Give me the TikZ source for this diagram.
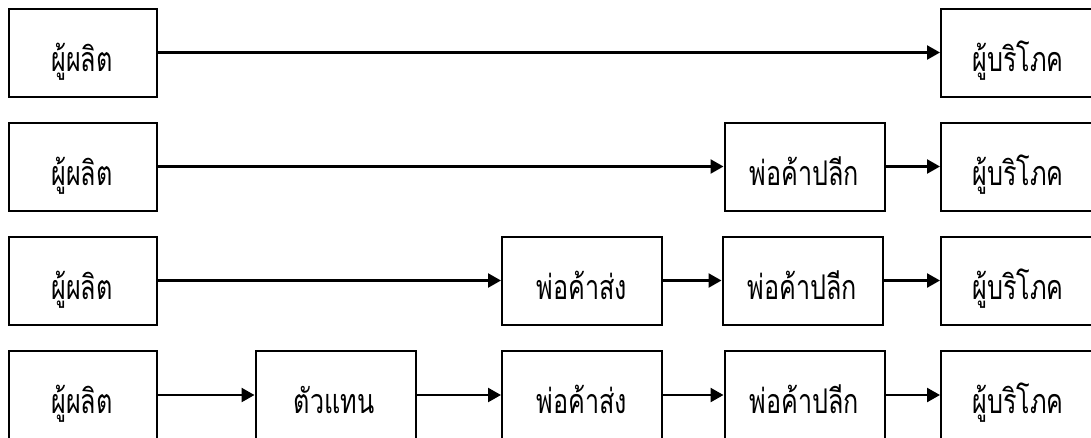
\documentclass[tikz,border=0pt]{standalone}
\usepackage{fontspec}
\newfontfamily\thai[Script=Thai,FakeStretch=0.74]{Loma}
\usetikzlibrary{arrows.meta}
\begin{document}
\begin{tikzpicture}[x=1pt,y=-1pt,
  box/.style={draw, line width=2pt, inner sep=0pt, minimum height=88pt},
  pbox/.style={box, minimum width=148pt},
  wbox/.style={box, minimum width=160pt},
  cbox/.style={box, minimum width=159pt},
  lbl/.style={font=\thai\fontsize{34}{40}\selectfont, anchor=base, inner sep=0pt},
  flow/.style={line width=2.4pt, -{Triangle[length=13pt,width=14pt]}}]
\useasboundingbox (0,0) rectangle (1091,437);
\clip (0,0) rectangle (1091,437);
% row 1
\node[pbox] (p1) at (83.25,52.5) {};
\node[cbox] (c1) at (1020.5,52.5) {};
\node[lbl] (p1t) at (82,71.5) {ผู้ผลิต};
\node[lbl] (c1t) at (1018,71.5) {ผู้บริโภค};
\draw[flow] (p1.east) -- (c1.west);
% row 2
\node[pbox] (p2) at (83.25,166.5) {};
\node[wbox] (r2) at (804.5,166.5) {};
\node[cbox] (c2) at (1020.5,166.5) {};
\node[lbl] (p2t) at (82,185) {ผู้ผลิต};
\node[lbl] (r2t) at (804.5,185) {พ่อค้าปลีก};
\node[lbl] (c2t) at (1018,185) {ผู้บริโภค};
\draw[flow] (p2.east) -- (r2.west);
\draw[flow] (r2.east) -- (c2.west);
% row 3
\node[pbox] (p3) at (83.25,280.5) {};
\node[wbox] (w3) at (582,280.5) {};
\node[wbox] (r3) at (802.5,280.5) {};
\node[cbox] (c3) at (1020.5,280.5) {};
\node[lbl] (p3t) at (82,299) {ผู้ผลิต};
\node[lbl] (w3t) at (582,299) {พ่อค้าส่ง};
\node[lbl] (r3t) at (802.5,299) {พ่อค้าปลีก};
\node[lbl] (c3t) at (1018,299) {ผู้บริโภค};
\draw[flow] (p3.east) -- (w3.west);
\draw[flow] (w3.east) -- (r3.west);
\draw[flow] (r3.east) -- (c3.west);
% row 4
\node[pbox] (p4) at (83.25,395) {};
\node[wbox] (t4) at (335.5,395) {};
\node[wbox] (w4) at (582,395) {};
\node[wbox] (r4) at (804.5,395) {};
\node[cbox] (c4) at (1020.5,395) {};
\node[lbl] (p4t) at (82,413) {ผู้ผลิต};
\node[lbl] (t4t) at (334,413) {ตัวแทน};
\node[lbl] (w4t) at (582,413) {พ่อค้าส่ง};
\node[lbl] (r4t) at (804.5,413) {พ่อค้าปลีก};
\node[lbl] (c4t) at (1018,413) {ผู้บริโภค};
\draw[flow] (p4.east) -- (t4.west);
\draw[flow] (t4.east) -- (w4.west);
\draw[flow] (w4.east) -- (r4.west);
\draw[flow] (r4.east) -- (c4.west);
\end{tikzpicture}
\end{document}
